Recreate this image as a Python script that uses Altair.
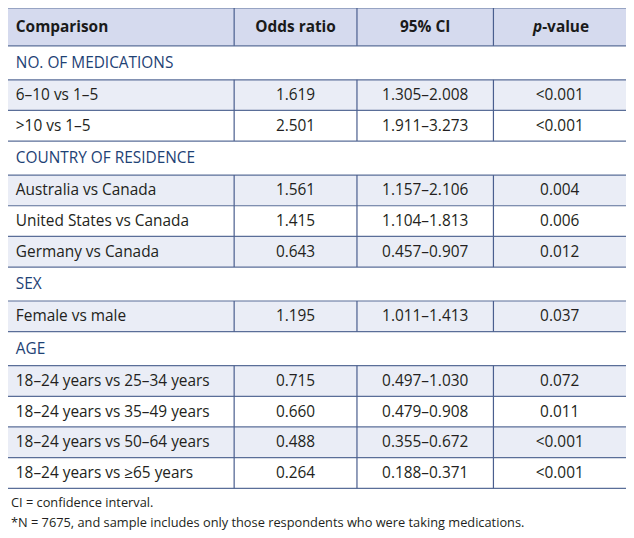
import altair as alt
import pandas as pd

# ---- table content ----
headers = ["Comparison", "Odds ratio", "95% CI", "p-value"]
groups = ["NO. OF MEDICATIONS", "COUNTRY OF RESIDENCE", "SEX", "AGE"]
comparisons = [
    ["6–10 vs 1–5", ">10 vs 1–5"],
    ["Australia vs Canada", "United States vs Canada", "Germany vs Canada"],
    ["Female vs male"],
    ["18–24 years vs 25–34 years", "18–24 years vs 35–49 years",
     "18–24 years vs 50–64 years", "18–24 years vs ≥65 years"],
]
odds = [["1.619", "2.501"], ["1.561", "1.415", "0.643"], ["1.195"],
        ["0.715", "0.660", "0.488", "0.264"]]
cis = [["1.305–2.008", "1.911–3.273"],
       ["1.157–2.106", "1.104–1.813", "0.457–0.907"],
       ["1.011–1.413"],
       ["0.497–1.030", "0.479–0.908", "0.355–0.672", "0.188–0.371"]]
pvals = [["<0.001", "<0.001"], ["0.004", "0.006", "0.012"], ["0.037"],
         ["0.072", "0.011", "<0.001", "<0.001"]]
footnotes = ["CI = confidence interval.",
             "*N = 7675, and sample includes only those respondents who were taking medications."]

# ---- layout (reference pixel units) ----
W, H = 634, 538
OUT_W, OUT_H = 618, 522
HEAD_H, GROUP_H, ROW_H = 39, 35, 31.6
col_edges = [0, 232, 358, 498, 634]
col_centers = [(col_edges[i] + col_edges[i + 1]) / 2 for i in range(4)]
LEFT_PAD = 8
FONT = "Open Sans"
FS = 15.4

rects, hlines, vlines, texts = [], [], [], []
hlines.append(dict(y=0))
rects.append(dict(x=0, x2=W, y=0, y2=HEAD_H, fill="#d5daee"))
for c in range(3):
    texts.append(dict(x=LEFT_PAD if c == 0 else col_centers[c], y=HEAD_H / 2,
                      t=headers[c], kind="head_l" if c == 0 else "head_c"))
texts.append(dict(x=col_centers[3] - 18, y=HEAD_H / 2, t="p", kind="head_p"))
texts.append(dict(x=col_centers[3] - 18, y=HEAD_H / 2, t="-value", kind="head_v"))
for e in col_edges[1:-1]:
    vlines.append(dict(x=e, y=0, y2=HEAD_H))
y = HEAD_H
hlines.append(dict(y=y))
for g, gname in enumerate(groups):
    texts.append(dict(x=LEFT_PAD, y=y + GROUP_H / 2, t=gname, kind="group"))
    y += GROUP_H
    hlines.append(dict(y=y))
    for r in range(len(comparisons[g])):
        if r % 2 == 0:
            rects.append(dict(x=0, x2=W, y=y, y2=y + ROW_H, fill="#eaedf6"))
        cy = y + ROW_H / 2
        texts.append(dict(x=LEFT_PAD, y=cy, t=comparisons[g][r], kind="cell_l"))
        texts.append(dict(x=col_centers[1], y=cy, t=odds[g][r], kind="cell_c"))
        texts.append(dict(x=col_centers[2], y=cy, t=cis[g][r], kind="cell_c"))
        texts.append(dict(x=col_centers[3], y=cy, t=pvals[g][r], kind="cell_c"))
        for e in col_edges[1:-1]:
            vlines.append(dict(x=e, y=y, y2=y + ROW_H))
        y += ROW_H
        hlines.append(dict(y=y))
foot_y = [y + 15, y + 36]
for i, f in enumerate(footnotes):
    texts.append(dict(x=3, y=foot_y[i], t=f, kind="foot"))

xs = alt.Scale(domain=[0, W], range=[0, OUT_W])
ys = alt.Scale(domain=[0, H], range=[0, OUT_H])
X = lambda f: alt.X(f, type="quantitative", scale=xs, axis=None)
Y = lambda f: alt.Y(f, type="quantitative", scale=ys, axis=None)

rect_df = pd.DataFrame(rects)
hl_df = pd.DataFrame(hlines)
hl_df["x"], hl_df["x2"] = 0, W
vl_df = pd.DataFrame(vlines)
tx = pd.DataFrame(texts)

bg = alt.Chart(rect_df).mark_rect().encode(
    x=X("x"), x2="x2", y=Y("y"), y2="y2",
    fill=alt.Fill("fill:N", scale=None))
hl = alt.Chart(hl_df).mark_rule(color="#5a6e98", strokeWidth=1.2).encode(
    x=X("x"), x2="x2", y=Y("y"))
vl = alt.Chart(vl_df).mark_rule(color="#4a5e8e", strokeWidth=1.2).encode(
    x=X("x"), y=Y("y"), y2="y2")

def layer_text(kind, **kw):
    return alt.Chart(tx[tx.kind == kind]).mark_text(
        font=FONT, baseline="middle", **kw).encode(x=X("x"), y=Y("y"), text="t:N")

txt = [
    layer_text("head_l", align="left", fontSize=FS, fontWeight="bold", color="#1a1a1a"),
    layer_text("head_c", align="center", fontSize=FS, fontWeight="bold", color="#1a1a1a"),
    layer_text("head_p", align="right", fontSize=FS, fontWeight="bold", fontStyle="italic", color="#1a1a1a"),
    layer_text("head_v", align="left", fontSize=FS, fontWeight="bold", color="#1a1a1a"),
    layer_text("group", align="left", fontSize=FS, color="#1e4275"),
    layer_text("cell_l", align="left", fontSize=FS, color="#231f20"),
    layer_text("cell_c", align="center", fontSize=FS, color="#231f20"),
    layer_text("foot", align="left", fontSize=12.8, color="#231f20"),
]

chart = alt.layer(bg, hl, vl, *txt).properties(
    width=OUT_W, height=OUT_H, padding=0, autosize="none",
    background="white"
).configure_view(stroke=None)

chart.save("out.html", embed_options={"renderer": "svg", "actions": False})
